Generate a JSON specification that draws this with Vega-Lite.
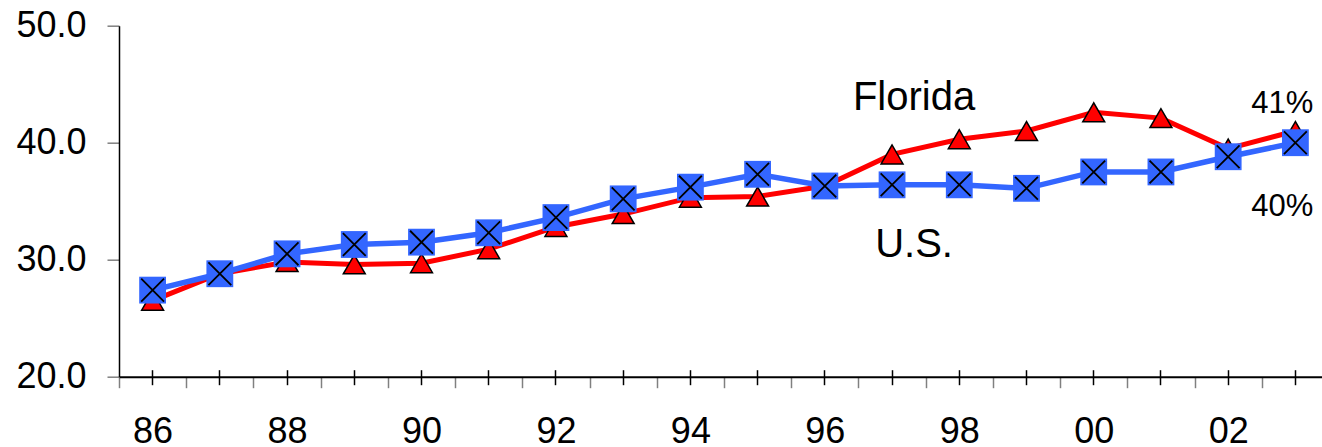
{
  "$schema": "https://vega.github.io/schema/vega-lite/v6.json",
  "width": 1210,
  "height": 351,
  "autosize": {"type": "none"},
  "padding": {"left": 119, "top": 25.7, "right": 0, "bottom": 70.3},
  "background": "white",
  "config": {"view": {"stroke": null}, "font": "Liberation Sans"},
  "datasets": {
    "series": [
      {"year": "86", "series": "Florida", "v": 26.5},
      {"year": "87", "series": "Florida", "v": 28.8},
      {"year": "88", "series": "Florida", "v": 29.8},
      {"year": "89", "series": "Florida", "v": 29.6},
      {"year": "90", "series": "Florida", "v": 29.7},
      {"year": "91", "series": "Florida", "v": 30.9},
      {"year": "92", "series": "Florida", "v": 32.8},
      {"year": "93", "series": "Florida", "v": 33.9},
      {"year": "94", "series": "Florida", "v": 35.3},
      {"year": "95", "series": "Florida", "v": 35.4},
      {"year": "96", "series": "Florida", "v": 36.3},
      {"year": "97", "series": "Florida", "v": 39.0},
      {"year": "98", "series": "Florida", "v": 40.3},
      {"year": "99", "series": "Florida", "v": 41.0},
      {"year": "00", "series": "Florida", "v": 42.6},
      {"year": "01", "series": "Florida", "v": 42.1},
      {"year": "02", "series": "Florida", "v": 39.5},
      {"year": "03", "series": "Florida", "v": 41.0},
      {"year": "86", "series": "U.S.", "v": 27.4},
      {"year": "87", "series": "U.S.", "v": 28.8},
      {"year": "88", "series": "U.S.", "v": 30.5},
      {"year": "89", "series": "U.S.", "v": 31.3},
      {"year": "90", "series": "U.S.", "v": 31.5},
      {"year": "91", "series": "U.S.", "v": 32.3},
      {"year": "92", "series": "U.S.", "v": 33.6},
      {"year": "93", "series": "U.S.", "v": 35.2},
      {"year": "94", "series": "U.S.", "v": 36.2},
      {"year": "95", "series": "U.S.", "v": 37.3},
      {"year": "96", "series": "U.S.", "v": 36.3},
      {"year": "97", "series": "U.S.", "v": 36.4},
      {"year": "98", "series": "U.S.", "v": 36.4},
      {"year": "99", "series": "U.S.", "v": 36.1},
      {"year": "00", "series": "U.S.", "v": 37.5},
      {"year": "01", "series": "U.S.", "v": 37.5},
      {"year": "02", "series": "U.S.", "v": 38.8},
      {"year": "03", "series": "U.S.", "v": 40.0}
    ],
    "names": [
      {"year": "97", "label": "Florida", "v": 42.8},
      {"year": "97", "label": "U.S.", "v": 30.26}
    ],
    "pcts": [
      {"year": "03", "label": "41%", "v": 42.5},
      {"year": "03", "label": "40%", "v": 33.7}
    ]
  },
  "data": {"name": "series"},
  "encoding": {
    "x": {
      "field": "year",
      "type": "ordinal",
      "sort": ["86","87","88","89","90","91","92","93","94","95","96","97","98","99","00","01","02","03"],
      "scale": {"type": "band", "paddingInner": 0, "paddingOuter": 0},
      "axis": null
    },
    "y": {
      "field": "v",
      "type": "quantitative",
      "scale": {"domain": [20, 50], "nice": false, "zero": false},
      "axis": {
        "title": null,
        "values": [20, 30, 40, 50],
        "format": ".1f",
        "grid": false,
        "domainColor": "black",
        "domainWidth": 1.5,
        "tickColor": "#808080",
        "tickWidth": 1.5,
        "tickSize": 12,
        "labelFontSize": 36,
        "labelColor": "black",
        "labelPadding": 21
      }
    }
  },
  "layer": [
    {
      "transform": [{"filter": "datum.series == 'Florida'"}],
      "mark": {"type": "line", "color": "#FF0000", "strokeWidth": 5},
      "encoding": {
        "x": {
          "field": "year",
          "type": "ordinal",
          "sort": ["86","87","88","89","90","91","92","93","94","95","96","97","98","99","00","01","02","03"],
          "scale": {"type": "band", "paddingInner": 0, "paddingOuter": 0},
          "axis": {
            "orient": "bottom",
            "title": null,
            "grid": false,
            "domainColor": "black",
            "domainWidth": 2,
            "tickBand": "extent",
            "tickColor": "#808080",
            "tickWidth": 1.5,
            "tickSize": 11,
            "labelAngle": 0,
            "labelFontSize": 36,
            "labelColor": "black",
            "labelPadding": 27,
            "labelExpr": "indexof(['86','88','90','92','94','96','98','00','02'], datum.value) >= 0 ? datum.label : ''"
          }
        }
      }
    },
    {
      "transform": [{"filter": "datum.series == 'Florida'"}],
      "mark": {"type": "point", "shape": "triangle-up", "size": 480, "filled": true, "fill": "#FF0000", "stroke": "black", "strokeWidth": 1.5, "opacity": 1}
    },
    {
      "transform": [{"filter": "datum.series == 'U.S.'"}],
      "mark": {"type": "line", "color": "#3366FF", "strokeWidth": 5.5},
      "encoding": {
        "x": {
          "field": "year",
          "type": "ordinal",
          "sort": ["86","87","88","89","90","91","92","93","94","95","96","97","98","99","00","01","02","03"],
          "scale": {"type": "band", "paddingInner": 0, "paddingOuter": 0},
          "axis": {
            "orient": "bottom",
            "offset": -7,
            "title": null,
            "grid": false,
            "domain": false,
            "labels": false,
            "tickColor": "black",
            "tickWidth": 1.5,
            "tickSize": 15
          }
        }
      }
    },
    {
      "transform": [{"filter": "datum.series == 'U.S.'"}],
      "mark": {"type": "point", "shape": "square", "size": 720, "filled": true, "fill": "#3366FF", "strokeWidth": 0, "opacity": 1}
    },
    {
      "transform": [{"filter": "datum.series == 'U.S.'"}],
      "mark": {"type": "point", "shape": "M-1,-1L1,1M-1,1L1,-1", "size": 520, "filled": false, "stroke": "black", "strokeWidth": 1.8, "opacity": 1}
    },
    {
      "data": {"name": "names"},
      "mark": {"type": "text", "fontSize": 40, "align": "center", "baseline": "alphabetic", "dx": 22, "color": "black"},
      "encoding": {"text": {"field": "label"}}
    },
    {
      "data": {"name": "pcts"},
      "mark": {"type": "text", "fontSize": 31, "align": "center", "baseline": "alphabetic", "dx": -13, "color": "black"},
      "encoding": {"text": {"field": "label"}}
    }
  ],
  "resolve": {"axis": {"x": "independent"}}
}
